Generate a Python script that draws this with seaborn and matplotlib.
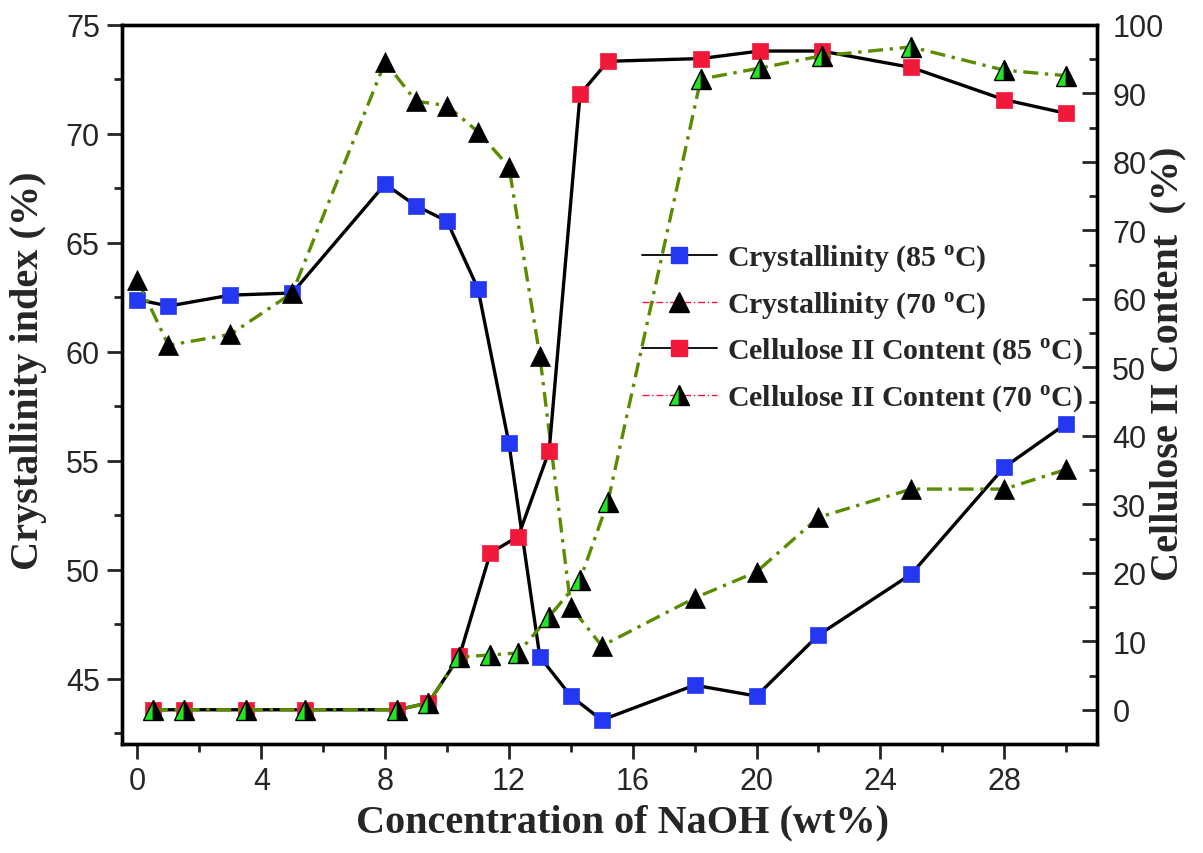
import matplotlib
matplotlib.use('Agg')
import matplotlib.pyplot as plt
from matplotlib.lines import Line2D
from matplotlib.ticker import MultipleLocator
import seaborn as sns

# NaOH concentration (wt%)
naoh_cryst = [0, 1, 3, 5, 8, 9, 10, 11, 12, 13, 14, 15, 18, 20, 22, 25, 28, 30]
naoh_cell = [0.5, 1.5, 3.5, 5.4, 8.4, 9.4, 10.4, 11.4, 12.3, 13.3, 14.3, 15.2,
             18.2, 20.1, 22.1, 25.0, 28.0, 30.0]

# crystallinity index (%)
cryst_85 = [62.4, 62.1, 62.6, 62.7, 67.7, 66.7, 66.0, 62.9, 55.8, 46.0, 44.2,
            43.1, 44.7, 44.2, 47.0, 49.8, 54.7, 56.7]
cryst_70 = [63.3, 60.3, 60.8, 62.7, 73.3, 71.5, 71.3, 70.1, 68.5, 59.8, 48.3,
            46.5, 48.7, 49.9, 52.4, 53.7, 53.7, 54.6]

# cellulose II content (%)
cell_85 = [0, 0, 0, 0, 0, 1.0, 7.8, 22.9, 25.3, 37.8, 89.9, 94.7, 95.1, 96.2,
           96.2, 93.8, 89.1, 87.1]
cell_70 = [0, 0, 0, 0, 0, 1.0, 7.7, 8.0, 8.3, 13.6, 19.0, 30.4, 92.1, 93.7,
           95.5, 96.8, 93.4, 92.6]

labels = ['Crystallinity (85 $^{\\mathbf{o}}$C)',
          'Crystallinity (70 $^{\\mathbf{o}}$C)',
          'Cellulose II Content (85 $^{\\mathbf{o}}$C)',
          'Cellulose II Content (70 $^{\\mathbf{o}}$C)']

BLUE = '#2438f2'
RED = '#f2183a'
GREEN = '#22e622'
OLIVE = '#5a8c00'

sns.set_style('ticks')
plt.rcParams['font.family'] = ['Liberation Sans', 'DejaVu Sans']
plt.rcParams['mathtext.fontset'] = 'custom'
plt.rcParams['mathtext.bf'] = 'Liberation Serif:bold'
plt.rcParams['mathtext.rm'] = 'Liberation Serif:bold'

fig = plt.figure(figsize=(12.03, 8.54), dpi=100)
ax = fig.add_axes([122 / 1203, 1 - 745 / 854, 975 / 1203, 719 / 854])
ax2 = ax.twinx()

dashdot = (0, (4.5, 2, 1, 2))

sns.lineplot(x=naoh_cryst, y=cryst_85, ax=ax, color='black', lw=2.4,
             marker='s', markersize=11, markerfacecolor=BLUE,
             markeredgecolor=BLUE, markeredgewidth=0.5, sort=False, errorbar=None)
sns.lineplot(x=naoh_cryst, y=cryst_70, ax=ax, color=OLIVE, lw=2.4,
             linestyle=dashdot, marker='^', markersize=14,
             markerfacecolor='black', markeredgecolor='black',
             markeredgewidth=0.5, sort=False, errorbar=None)
sns.lineplot(x=naoh_cell, y=cell_85, ax=ax2, color='black', lw=2.4,
             marker='s', markersize=11, markerfacecolor=RED,
             markeredgecolor=RED, markeredgewidth=0.5, sort=False, errorbar=None)
sns.lineplot(x=naoh_cell, y=cell_70, ax=ax2, color=OLIVE, lw=2.4,
             linestyle=dashdot, marker='^', markersize=14, fillstyle='left',
             markerfacecolor=GREEN, markerfacecoloralt='black',
             markeredgecolor='black', markeredgewidth=1.0,
             sort=False, errorbar=None)

ax.set_xlim(-0.5, 31)
ax.set_ylim(42, 75)
ax2.set_ylim(-5, 100)

ax.xaxis.set_major_locator(MultipleLocator(4))
ax.xaxis.set_minor_locator(MultipleLocator(2))
ax.yaxis.set_major_locator(MultipleLocator(5))
ax.yaxis.set_minor_locator(MultipleLocator(2.5))
ax2.yaxis.set_major_locator(MultipleLocator(10))
ax2.yaxis.set_minor_locator(MultipleLocator(5))

ax.tick_params(which='major', direction='out', length=11, width=2,
               labelsize=22, pad=5, top=False, right=False)
ax.tick_params(which='minor', direction='out', length=6, width=2,
               top=False, right=False)
ax2.tick_params(axis='y', which='major', direction='in', length=11, width=2,
                labelsize=22, pad=11)
ax2.tick_params(axis='y', which='minor', direction='in', length=6, width=2)

for a in (ax, ax2):
    for sp in a.spines.values():
        sp.set_linewidth(2.4)
        sp.set_color('black')

label_font = dict(family='Liberation Serif', weight='bold', size=29)
ax.set_xlabel('Concentration of NaOH (wt%)', **label_font)
ax.set_ylabel('Crystallinity index (%)', **label_font)
ax2.set_ylabel('Cellulose II Content  (%)', **label_font)
ax.xaxis.set_label_coords(0.513, -0.083)
ax.yaxis.set_label_coords(-0.077, 0.52)
ax2.yaxis.set_label_coords(1.054, 0.53)

handles = [
    Line2D([], [], color='black', lw=1.3, marker='s', markersize=11,
           markerfacecolor=BLUE, markeredgecolor=BLUE),
    Line2D([], [], color=RED, lw=1.0, linestyle=(0, (5, 2, 1, 2)), marker='^',
           markersize=14, markerfacecolor='black', markeredgecolor='black'),
    Line2D([], [], color='black', lw=1.3, marker='s', markersize=11,
           markerfacecolor=RED, markeredgecolor=RED),
    Line2D([], [], color=RED, lw=1.0, linestyle=(0, (5, 2, 1, 2)), marker='^',
           markersize=14, fillstyle='left', markerfacecolor=GREEN,
           markerfacecoloralt='black', markeredgecolor='black'),
]
leg = ax2.legend(handles, labels, loc='upper left',
                 bbox_to_anchor=((642 - 122) / 975, 0.698),
                 frameon=False, borderpad=0, borderaxespad=0,
                 handlelength=2.5, handletextpad=0.35, labelspacing=0.5,
                 prop=dict(family='Liberation Serif', weight='bold', size=21.5))

fig.savefig('out.png', dpi=100)
